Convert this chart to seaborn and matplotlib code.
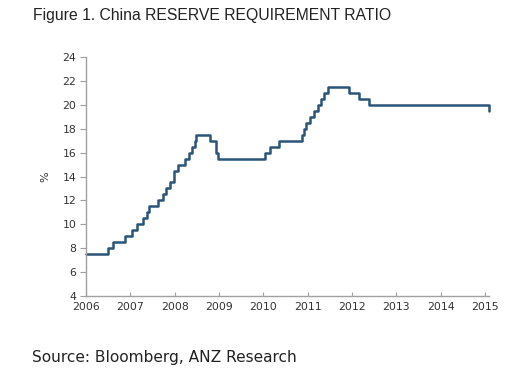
import pandas as pd
import matplotlib
matplotlib.use("Agg")
import matplotlib.pyplot as plt
import matplotlib.dates as mdates
import seaborn as sns

# RRR change dates (large banks) and the new ratio, %
dates = ["2006-01-01", "2006-07-05", "2006-08-15", "2006-11-15",
         "2007-01-15", "2007-02-25", "2007-04-16", "2007-05-15", "2007-06-05",
         "2007-08-15", "2007-09-25", "2007-10-25", "2007-11-26", "2007-12-25",
         "2008-01-25", "2008-03-25", "2008-04-25", "2008-05-20", "2008-06-15",
         "2008-06-25", "2008-10-15", "2008-12-05", "2008-12-25",
         "2010-01-18", "2010-02-25", "2010-05-10", "2010-11-16", "2010-11-29",
         "2010-12-20", "2011-01-20", "2011-02-24", "2011-03-25", "2011-04-21",
         "2011-05-18", "2011-06-20", "2011-12-05", "2012-02-24", "2012-05-18",
         "2015-02-01"]
rrr = [7.5, 8.0, 8.5, 9.0,
       9.5, 10.0, 10.5, 11.0, 11.5,
       12.0, 12.5, 13.0, 13.5, 14.5,
       15.0, 15.5, 16.0, 16.5, 17.0,
       17.5, 17.0, 16.0, 15.5,
       16.0, 16.5, 17.0, 17.5, 18.0,
       18.5, 19.0, 19.5, 20.0, 20.5,
       21.0, 21.5, 21.0, 20.5, 20.0,
       19.5]
y_ticks = list(range(4, 25, 2))
year_ticks = list(range(2006, 2016))

df = pd.DataFrame({"date": pd.to_datetime(dates), "rrr": rrr})

sns.set_style("white")
plt.rcParams["font.family"] = ["DejaVu Sans"]

fig = plt.figure(figsize=(5.16, 3.82), dpi=100)
ax = fig.add_axes([0.1667, 0.2251, 0.781, 0.6257])

sns.lineplot(data=df, x="date", y="rrr", ax=ax, color="#2b5479",
             linewidth=1.8, drawstyle="steps-post", clip_on=False)

ax.set_ylim(4, 24)
ax.set_yticks(y_ticks)
ax.set_xlim(pd.Timestamp("2006-01-01"), pd.Timestamp("2015-02-03"))
ax.set_xticks([pd.Timestamp(f"{y}-01-01") for y in year_ticks])
ax.xaxis.set_major_formatter(mdates.DateFormatter("%Y"))

ax.set_xlabel("")
ax.set_ylabel("%", fontsize=8, color="#333333", labelpad=9)

for side in ["top", "right"]:
    ax.spines[side].set_visible(False)
for side in ["left", "bottom"]:
    ax.spines[side].set_color("#a0a0a0")
    ax.spines[side].set_linewidth(1.0)

ax.tick_params(axis="y", direction="out", length=4, width=0.8,
               color="#a0a0a0", labelsize=7.8, labelcolor="#333333", pad=3,
               left=True)
ax.tick_params(axis="x", direction="in", length=3, width=0.8,
               color="#a0a0a0", labelsize=7.8, labelcolor="#333333", pad=4,
               bottom=True)

fig.text(0.064, 0.96, "Figure 1. China RESERVE REQUIREMENT RATIO",
         fontsize=11.3, family="Liberation Sans", color="#222222", va="center")
fig.text(0.062, 0.065, "Source: Bloomberg, ANZ Research",
         fontsize=11.1, family="DejaVu Sans", color="#222222", va="center")

fig.savefig("out.png", dpi=100)
